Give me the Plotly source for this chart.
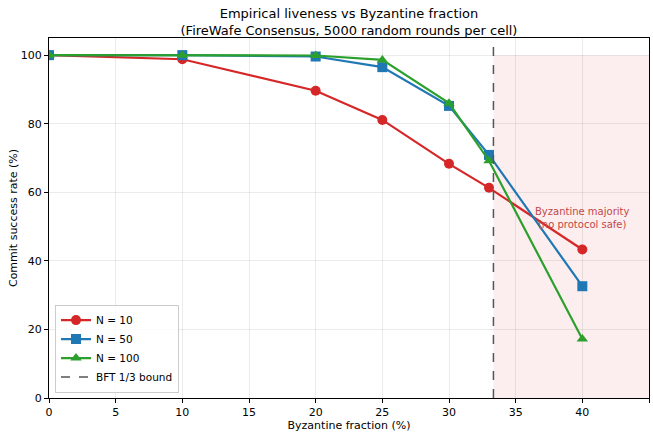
import plotly.graph_objects as go

fractions = [0, 10, 20, 25, 30, 33, 40]
n10 = [100.0, 98.8, 89.6, 81.1, 68.3, 61.3, 43.3]
n50 = [100.0, 100.0, 99.6, 96.5, 85.2, 70.9, 32.6]
n100 = [100.0, 100.0, 99.9, 98.6, 86.0, 69.2, 17.2]
bft_bound = 100 / 3
series = [("N = 10", n10, "#d62728", "circle"),
          ("N = 50", n50, "#1f77b4", "square"),
          ("N = 100", n100, "#2ca02c", "triangle-up")]

fig = go.Figure()
fig.add_shape(type="rect", xref="x", yref="y", x0=bft_bound, x1=45, y0=0, y1=100,
              fillcolor="rgba(214,39,40,0.08)", line_width=0, layer="below")
for name, vals, col, sym in series:
    fig.add_trace(go.Scatter(x=fractions, y=vals, name=name, mode="lines+markers",
                             line=dict(color=col, width=2.2),
                             marker=dict(symbol=sym, size=10, color=col)))
fig.add_trace(go.Scatter(x=[bft_bound, bft_bound], y=[0, 105], mode="lines",
                         name="BFT 1/3 bound",
                         line=dict(color="#555555", width=1.5, dash="dash")))
fig.add_annotation(x=40, y=52.5, xref="x", yref="y",
                   text="Byzantine majority<br>(no protocol safe)", showarrow=False,
                   font=dict(size=10, color="#c04848"), align="center")

axis_common = dict(showline=True, linecolor="black", linewidth=1, mirror=True,
                   ticks="outside", ticklen=4, tickcolor="black", automargin=False,
                   showgrid=True, gridcolor="rgba(0,0,0,0.08)", zeroline=False,
                   tickfont=dict(size=11, color="black"))
fig.update_layout(
    width=653, height=433,
    margin=dict(l=49, r=4, t=38, b=35),
    paper_bgcolor="white", plot_bgcolor="white",
    font=dict(family="DejaVu Sans", color="black"),
    title=dict(text="Empirical liveness vs Byzantine fraction<br>(FireWafe Consensus, 5000 random rounds per cell)",
               x=0.5, xanchor="center", xref="paper", yref="paper",
               y=1, yanchor="bottom", pad=dict(b=20), font=dict(size=13), automargin=False),
    xaxis=dict(range=[0, 45], dtick=5, title=dict(text="Byzantine fraction (%)", font=dict(size=11), standoff=3),
               **axis_common),
    yaxis=dict(range=[0, 105], tickvals=[0, 20, 40, 60, 80, 100], title=dict(text="Commit success rate (%)", font=dict(size=11), standoff=0),
               **axis_common),
    legend=dict(x=0.01, y=0.015, xanchor="left", yanchor="bottom",
                bordercolor="#cccccc", borderwidth=1, bgcolor="rgba(255,255,255,0.8)",
                font=dict(size=10.5), tracegroupgap=0, itemwidth=30),
    showlegend=True,
)
fig.write_html("out.html", config={"displayModeBar": False},
               post_script="document.body.style.margin='0';document.body.style.overflow='hidden';")
